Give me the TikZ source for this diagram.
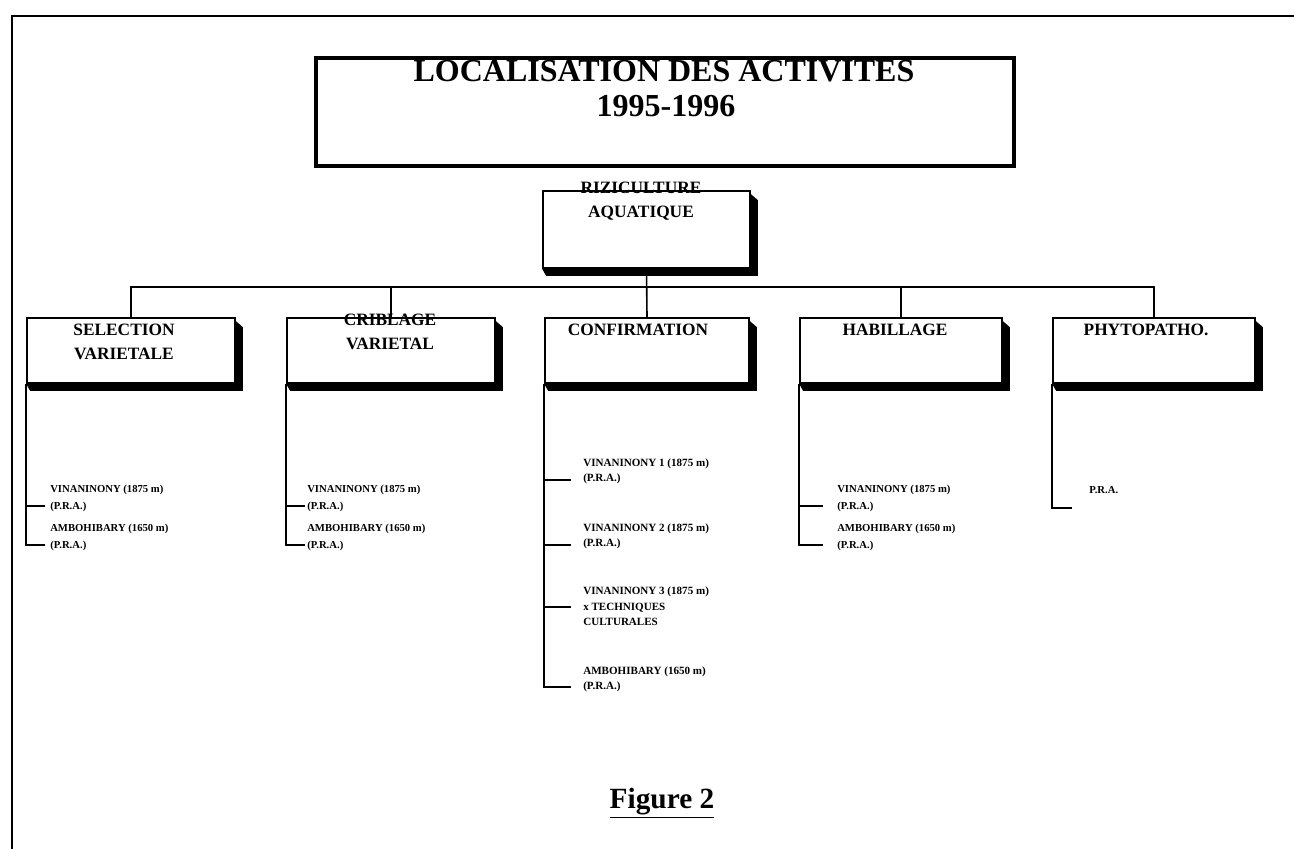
\documentclass[tikz,border=0pt]{standalone}
\usepackage{fontspec}
\setmainfont{Liberation Serif}
\usetikzlibrary{fit,calc}
\begin{document}
\begin{tikzpicture}[x=0.75pt,y=-0.75pt,
  frame/.style={line width=1.4pt},
  box/.style={draw, line width=1.3pt, rectangle, inner sep=0pt, fill=white},
  titlebox/.style={draw, line width=3pt, rectangle, inner sep=0pt},
  conn/.style={line width=1.2pt},
  lbl/.style={font=\bfseries\fontsize{13pt}{18.5pt}\selectfont, align=center, inner sep=0pt},
  item/.style={font=\bfseries\fontsize{8pt}{12.75pt}\selectfont, align=left, anchor=west, inner sep=0pt},
  citem/.style={font=\bfseries\fontsize{8.3pt}{11.5pt}\selectfont, align=left, anchor=west, inner sep=0pt}]
\useasboundingbox (0,0) rectangle (1294,849);
\newcommand{\shadowof}[1]{%
  \fill ($(#1.north east)+(0,4)$) -- ($(#1.north east)+(7,10)$) -- ($(#1.south east)+(7,7)$)
     -- ($(#1.south west)+(4,7)$) -- (#1.south west) -- (#1.south east) -- cycle;}
% outer frame
\coordinate (fr1) at (1294,16);
\coordinate (fr2) at (12,16);
\coordinate (fr3) at (12,849);
\draw[frame] (fr1) -- (fr2) -- (fr3);
% title
\node[font=\bfseries\fontsize{24pt}{28pt}\selectfont, inner sep=0pt] (t1) at (664,71) {LOCALISATION DES ACTIVITES};
\node[font=\bfseries\fontsize{24pt}{28pt}\selectfont, inner sep=0pt] (t2) at (666,106) {1995-1996};
\node[titlebox, fit={(316,58) (1014,166)}] (title) {};
% rizi
\node[box, fit={(543,191) (750,268)}] (riz) {};
\shadowof{riz}
\node[lbl] (rizl) at (641,201) {RIZICULTURE\\AQUATIQUE};
% children
\node[box, fit={(27,318) (235,383)}] (sel) {};
\shadowof{sel}
\node[box, fit={(287,318) (495,383)}] (crib) {};
\shadowof{crib}
\node[box, fit={(545,318) (749,383)}] (conf) {};
\shadowof{conf}
\node[box, fit={(800,318) (1002,383)}] (hab) {};
\shadowof{hab}
\node[box, fit={(1053,318) (1255,383)}] (phy) {};
\shadowof{phy}
\node[lbl] (sell) at (124,342) {SELECTION\\VARIETALE};
\node[lbl] (cribl) at (390,332) {CRIBLAGE\\VARIETAL};
\node[lbl] (confl) at (638,330) {CONFIRMATION};
\node[lbl] (habl) at (895,330) {HABILLAGE};
\node[lbl] (phyl) at (1146,330) {PHYTOPATHO.};
% tree connectors
\coordinate (bus) at (646,287);
\draw[conn] (riz.south) -- (conf.north);
\draw[conn] (sel.north) -- (sel.north |- bus) -- (phy.north |- bus) -- (phy.north);
\draw[conn] (crib.north) -- (crib.north |- bus);
\draw[conn] (hab.north) -- (hab.north |- bus);
% selection list
\node[item] (s1) at (50,498) {VINANINONY (1875 m)\\(P.R.A.)};
\node[item] (s2) at (50,537) {AMBOHIBARY (1650 m)\\(P.R.A.)};
\coordinate (s1t) at (45,506);
\coordinate (s2t) at (45,545);
\draw[conn] (sel.south west) |- (s2t);
\draw[conn] (sel.south west |- s1t) -- (s1t);
% criblage list
\node[item] (c1) at (307,498) {VINANINONY (1875 m)\\(P.R.A.)};
\node[item] (c2) at (307,537) {AMBOHIBARY (1650 m)\\(P.R.A.)};
\coordinate (c1t) at (305,506);
\coordinate (c2t) at (305,545);
\draw[conn] (crib.south west) |- (c2t);
\draw[conn] (crib.south west |- c1t) -- (c1t);
% confirmation list
\node[citem] (f1) at (583,471) {VINANINONY 1 (1875 m)\\(P.R.A.)};
\node[citem] (f2) at (583,536.5) {VINANINONY 2 (1875 m)\\(P.R.A.)};
\node[citem] (f3) at (583,606.5) {VINANINONY 3 (1875 m)\\x TECHNIQUES\\CULTURALES};
\node[citem] (f4) at (583,679.5) {AMBOHIBARY (1650 m)\\(P.R.A.)};
\coordinate (f1t) at (571,480);
\coordinate (f2t) at (571,545);
\coordinate (f3t) at (571,607);
\coordinate (f4t) at (571,687);
\draw[conn] (conf.south west) |- (f4t);
\draw[conn] (conf.south west |- f1t) -- (f1t);
\draw[conn] (conf.south west |- f2t) -- (f2t);
\draw[conn] (conf.south west |- f3t) -- (f3t);
% habillage list
\node[item] (h1) at (837,498) {VINANINONY (1875 m)\\(P.R.A.)};
\node[item] (h2) at (837,537) {AMBOHIBARY (1650 m)\\(P.R.A.)};
\coordinate (h1t) at (823,506);
\coordinate (h2t) at (823,545);
\draw[conn] (hab.south west) |- (h2t);
\draw[conn] (hab.south west |- h1t) -- (h1t);
% phytopatho list
\node[item] (p1) at (1089,490) {P.R.A.};
\coordinate (p1t) at (1072,508);
\draw[conn] (phy.south west) |- (p1t);
% figure caption
\node[font=\bfseries\fontsize{22pt}{26pt}\selectfont, inner sep=0pt] (fig) at (662,803) {\underline{Figure 2}};
\end{tikzpicture}
\end{document}
